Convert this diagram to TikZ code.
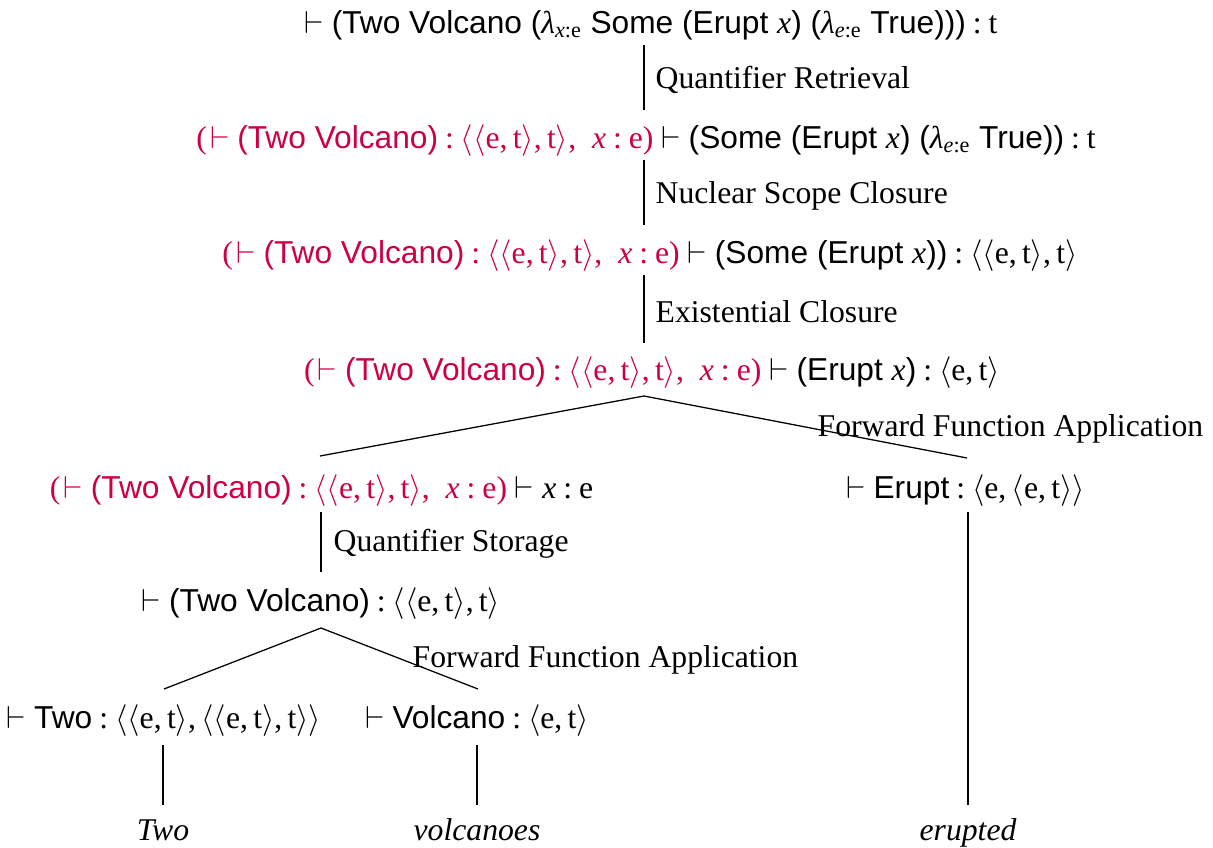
\documentclass[tikz,border=0pt]{standalone}
\usepackage{fontspec}
\setmainfont{Liberation Serif}
\setsansfont{Liberation Sans}
\definecolor{hl}{RGB}{204,0,68}
\newcommand\vd{$\vdash$}
\newcommand\ang[1]{$\langle$#1$\rangle$}
\newcommand\cn[1]{\textsf{#1}}
\newcommand\vx{\textit{x}}
\newcommand\lam[1]{\textit{λ}\textsubscript{#1}}
\newcommand\cl{\hspace{0.22em}:\hspace{0.22em}}
\newcommand\ctx{\textcolor{hl}{(\hspace{0.1em}\vd{} \cn{(Two Volcano)}\cl\ang{\ang{e,\,t},\,t},\ \ \vx\cl e)}}
\tikzset{
  term/.style={anchor=base,inner sep=0pt,font=\fontsize{10}{12}\selectfont},
  rule/.style={anchor=base west,inner sep=0pt,font=\fontsize{10}{12}\selectfont},
  word/.style={anchor=base,inner sep=0pt,font=\fontsize{10}{12}\selectfont\itshape},
  edge/.style={draw=black,line width=0.4pt}
}
\begin{document}
\begin{tikzpicture}[x=0.3155pt,y=-0.3155pt]
\useasboundingbox (0,0) rectangle (1213,848);
% terms
\node[term] (r1) at (651,33) {\vd{} \cn{(Two Volcano (}\lam{\textit{x}:e} \cn{Some (Erupt }\vx\cn{) (}\lam{\textit{e}:e} \cn{True)))}\cl t};
\node[term] (r2) at (646,148) {\ctx{} \vd{} \cn{(Some (Erupt }\vx\cn{) (}\lam{\textit{e}:e} \cn{True))}\cl t};
\node[term] (r3) at (650,263) {\ctx{} \vd{} \cn{(Some (Erupt }\vx\cn{))}\cl\ang{\ang{e,\,t},\,t}};
\node[term] (r4) at (652,380) {\ctx{} \vd{} \cn{(Erupt }\vx\cn{)}\cl\ang{e,\,t}};
\node[term] (r5) at (321.5,498) {\ctx{} \vd{} \vx\cl e};
\node[term] (r5b) at (965.5,498) {\vd{} \cn{Erupt}\cl\ang{e,\,\ang{e,\,t}}};
\node[term] (r6) at (321,611) {\vd{} \cn{(Two Volcano)}\cl\ang{\ang{e,\,t},\,t}};
\node[term] (r7a) at (164,728) {\vd{} \cn{Two}\cl\ang{\ang{e,\,t},\,\ang{\ang{e,\,t},\,t}}};
\node[term] (r7b) at (477,728) {\vd{} \cn{Volcano}\cl\ang{e,\,t}};
\node[word] (w1) at (163,840) {Two};
\node[word] (w2) at (477,840) {volcanoes};
\node[word] (w3) at (968,840) {erupted};
% rule labels
\node[rule] (l1) at (655,88) {Quantifier Retrieval};
\node[rule] (l2) at (655,203) {Nuclear Scope Closure};
\node[rule] (l3) at (655,322) {Existential Closure};
\node[rule] (l4) at (817,436) {Forward Function Application};
\node[rule] (l5) at (333,551) {Quantifier Storage};
\node[rule] (l6) at (412,667) {Forward Function Application};
% edge end points
\coordinate (r1b) at (644,45);  \coordinate (r2t) at (644,110);
\coordinate (r2b) at (644,160); \coordinate (r3t) at (644,225);
\coordinate (r3b) at (644,275); \coordinate (r4t) at (644,343);
\coordinate (r4b) at (644,396); \coordinate (r5t) at (320,456);
\coordinate (r5bt) at (967,458);
\coordinate (r5d) at (321,512); \coordinate (r6t) at (321,572);
\coordinate (r6b) at (321,628); \coordinate (r7at) at (164,689);
\coordinate (r7bt) at (478,689);
\coordinate (r7ad) at (163,745); \coordinate (w1t) at (163,805);
\coordinate (r7bd) at (477,745); \coordinate (w2t) at (477,805);
\coordinate (r5bd) at (968,512); \coordinate (w3t) at (968,805);
% edges
\path[edge] (r1b) -- (r2t);
\path[edge] (r2b) -- (r3t);
\path[edge] (r3b) -- (r4t);
\path[edge] (r5t) -- (r4b) -- (r5bt);
\path[edge] (r5d) -- (r6t);
\path[edge] (r7at) -- (r6b) -- (r7bt);
\path[edge] (r7ad) -- (w1t);
\path[edge] (r7bd) -- (w2t);
\path[edge] (r5bd) -- (w3t);
\end{tikzpicture}
\end{document}
